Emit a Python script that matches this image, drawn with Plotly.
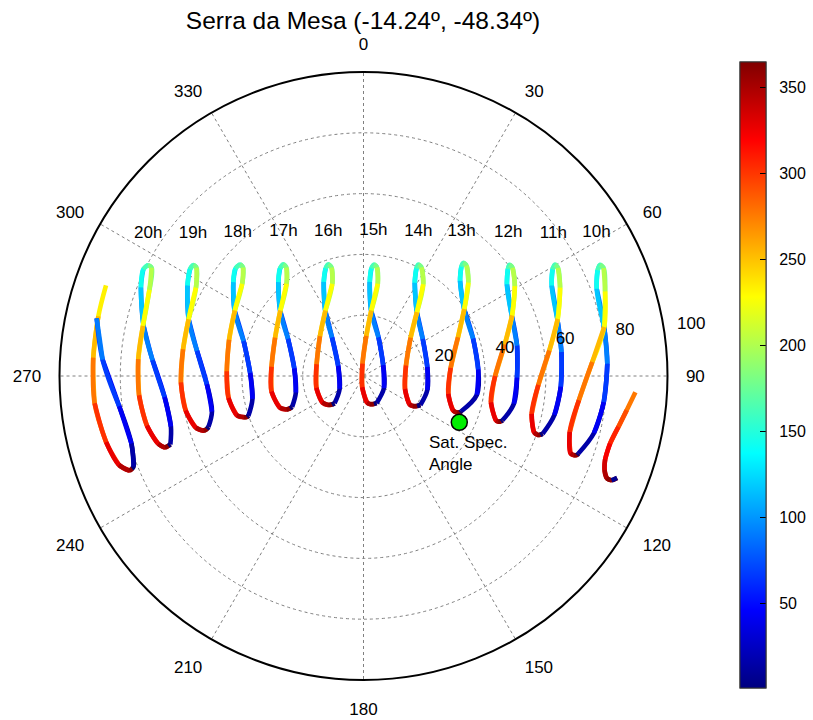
import plotly.graph_objects as go

# ---------------- data (zenith angle r, azimuth theta, day of year) ----------------
DAYS = [1, 30, 55, 80, 104, 130, 155, 172, 190, 215, 241, 265, 290, 315, 340, 355, 365]

zen_20h = [67.4, 65.5, 65.8, 69.6, 74.3, 78.8, 80.5, 79.7, 78.3, 75.9, 74.4, 74.3, 74.1, 73.1, 71.1, 69.4, 68.2]
az_20h = [250.5, 255.3, 264.0, 274.3, 283.0, 291.7, 295.9, 297.2, 297.1, 291.9, 282.8, 274.3, 265.1, 257.1, 251.7, 250.2, 250.3]

zen_19h = [53.7, 51.2, 51.6, 55.4, 60.6, 65.1, 67.0, 66.8, 65.5, 62.3, 60.5, 60.0, 60.1, 59.6, 57.7, 55.5, 54.4]
az_19h = [251.8, 256.8, 267.0, 278.6, 288.2, 297.2, 301.6, 303.1, 303.0, 297.8, 288.0, 278.4, 268.0, 259.0, 252.8, 251.1, 251.3]

zen_18h = [40.1, 37.3, 37.3, 41.1, 47.7, 52.8, 55.0, 54.7, 53.3, 50.1, 47.5, 45.8, 45.0, 45.0, 43.6, 41.6, 40.6]
az_18h = [250.9, 258.3, 271.6, 286.3, 297.1, 305.8, 310.0, 312.1, 312.0, 307.2, 297.0, 285.1, 272.0, 260.7, 252.7, 251.0, 250.6]

zen_17h = [25.6, 22.9, 22.9, 27.7, 35.0, 41.7, 44.8, 45.2, 43.8, 39.5, 34.8, 31.7, 30.4, 30.7, 29.4, 27.6, 26.4]
az_17h = [246.6, 256.3, 276.3, 296.3, 308.3, 317.8, 322.2, 324.3, 324.6, 320.2, 308.2, 293.5, 275.7, 260.4, 249.1, 246.5, 246.2]

zen_16h = [13.1, 8.9, 9.0, 16.4, 25.1, 33.6, 37.5, 38.5, 37.2, 32.0, 24.9, 19.4, 15.9, 16.0, 16.1, 15.0, 14.0]
az_16h = [226.6, 241.8, 292.1, 320.8, 329.8, 337.1, 340.6, 342.5, 343.6, 341.3, 329.8, 312.4, 284.1, 255.8, 237.2, 230.5, 227.9]

zen_15h = [9.9, 7.8, 7.4, 13.7, 21.8, 31.0, 35.5, 36.8, 36.0, 30.7, 21.7, 13.2, 4.1, 3.7, 8.8, 9.5, 9.8]
az_15h = [154.3, 120.1, 61.1, 21.1, 6.5, 3.8, 4.2, 5.4, 7.1, 8.8, 6.8, 4.0, 355.4, 186.7, 172.5, 166.9, 159.5]

zen_14h = [21.0, 21.5, 21.2, 23.0, 27.5, 35.0, 39.4, 40.9, 40.5, 36.0, 27.4, 20.0, 14.4, 14.3, 17.8, 19.0, 20.2]
az_14h = [117.0, 102.2, 81.9, 57.9, 39.5, 28.8, 26.2, 26.2, 28.1, 33.1, 39.9, 50.8, 76.1, 107.4, 121.7, 121.4, 119.2]

zen_13h = [34.1, 37.8, 37.8, 38.1, 39.8, 44.6, 48.2, 49.6, 49.7, 46.2, 39.8, 33.6, 28.8, 28.5, 31.6, 32.9, 33.9]
az_13h = [110.0, 99.4, 86.7, 71.1, 56.2, 45.4, 41.9, 41.4, 43.0, 48.3, 56.4, 67.7, 84.7, 101.9, 111.1, 111.4, 110.7]

zen_12h = [48.0, 50.3, 50.5, 51.5, 52.7, 56.0, 59.1, 60.4, 60.6, 57.9, 52.8, 47.6, 43.3, 42.8, 46.0, 46.8, 47.6]
az_12h = [107.7, 100.4, 90.6, 78.8, 67.6, 57.4, 53.5, 52.7, 54.0, 59.3, 67.8, 77.4, 90.0, 101.7, 108.6, 108.7, 108.3]

zen_11h = [61.9, 64.1, 65.0, 65.6, 66.5, 68.7, 71.4, 72.9, 73.2, 70.9, 66.6, 61.7, 57.6, 56.7, 59.1, 60.4, 61.3]
az_11h = [107.9, 101.5, 93.1, 83.1, 73.4, 64.3, 60.6, 59.8, 60.9, 65.8, 73.6, 82.2, 92.9, 102.7, 108.3, 108.7, 108.4]

zen_10h = [75.1, 78.1, 79.5, 80.3, 80.8, 81.9, 84.5, 86.0, 86.6, 84.2, 80.8, 75.4, 71.3, 70.3, 72.7, 74.0, 74.9]
az_10h = [109.9, 103.9, 96.2, 87.1, 78.4, 69.5, 65.7, 64.8, 65.8, 70.7, 78.5, 86.5, 96.4, 105.2, 110.5, 110.6, 110.3]

# partially visible analemmas (cut at the horizon)
days_21h = [1, 30, 55, 80, 100, 226, 241, 265, 290, 315, 340, 355, 365]
zen_21h = [81.3, 79.5, 81.0, 86.0, 89.8, 89.8, 89.4, 89.1, 88.9, 87.4, 85.6, 83.0, 82.0]
az_21h = [248.5, 253.8, 263.0, 273.6, 282.2, 289.4, 282.7, 273.9, 264.2, 255.6, 250.0, 248.0, 248.2]

days_9h = [15, 268, 285, 300, 315, 330, 342, 355, 365]
zen_9h = [89.9, 89.6, 87.3, 85.5, 84.1, 84.1, 85.1, 86.8, 88.5]
az_9h = [111.9, 93.4, 97.4, 101.3, 105.3, 109.1, 111.3, 112.8, 112.8]

# hour labels
hour_labels = ["20h", "19h", "18h", "17h", "16h", "15h", "14h", "13h", "12h", "11h", "10h"]
label_zen = [84.9, 73.1, 62.8, 54.3, 48.9, 47.8, 50.8, 57.4, 67.1, 78.1, 89.9]
label_az = [303.5, 309.9, 318.8, 331.0, 346.3, 3.9, 20.8, 34.2, 45.2, 53.1, 58.5]

# satellite specular angle point
sat_zen = [35.0]
sat_az = [115.8]

# axis ticks
angle_ticks = list(range(0, 360, 30))
radial_ticks = [20, 40, 60, 80, 100]
cbar_ticks = [50, 100, 150, 200, 250, 300, 350]
DAY_MIN, DAY_MAX = 1, 365

# ---------------- styling ----------------
FONT = "Liberation Sans, Arial, Helvetica, sans-serif"
JET = [[0.0, "rgb(0,0,128)"], [0.125, "rgb(0,0,255)"], [0.375, "rgb(0,255,255)"],
       [0.625, "rgb(255,255,0)"], [0.875, "rgb(255,0,0)"], [1.0, "rgb(128,0,0)"]]


def jet(v):
    t = (v - DAY_MIN) / (DAY_MAX - DAY_MIN)
    r = min(max(1.5 - abs(4 * t - 3), 0), 1)
    g = min(max(1.5 - abs(4 * t - 2), 0), 1)
    b = min(max(1.5 - abs(4 * t - 1), 0), 1)
    return "rgb(%d,%d,%d)" % (round(255 * r), round(255 * g), round(255 * b))


def run_order(d):
    """Order of point indices along the (cyclic) curve, broken where a gap exists."""
    n = len(d)
    gaps = [i for i in range(n - 1) if d[i + 1] - d[i] > 60]
    if gaps:
        g = gaps[0]
        idx = list(range(g + 1, n))
        if d[0] + 365 - d[-1] <= 60:
            idx += list(range(0, g + 1))
        return idx
    return list(range(n)) + [0]


curves = [
    (days_21h, zen_21h, az_21h),
    (DAYS, zen_20h, az_20h), (DAYS, zen_19h, az_19h), (DAYS, zen_18h, az_18h),
    (DAYS, zen_17h, az_17h), (DAYS, zen_16h, az_16h), (DAYS, zen_15h, az_15h),
    (DAYS, zen_14h, az_14h), (DAYS, zen_13h, az_13h), (DAYS, zen_12h, az_12h),
    (DAYS, zen_11h, az_11h), (DAYS, zen_10h, az_10h),
    (days_9h, zen_9h, az_9h),
]

fig = go.Figure()
LW = 4.6
for d, z, a in curves:
    idx = run_order(d)
    m = len(idx)
    for k in range(m - 1):
        i, j = idx[k], idx[k + 1]
        win = idx[k:k + 3] if k < m - 2 else idx[k:k + 2]
        di, dj = d[i], d[j]
        if dj < di:
            dj += 365
        mid = (di + dj) / 2.0
        if mid > 365:
            mid -= 365
        col = jet(mid)
        fig.add_trace(go.Scatterpolar(
            r=[z[q] for q in win], theta=[a[q] for q in win], mode="lines",
            line=dict(color=col, width=LW, shape="spline", smoothing=1.0),
            hoverinfo="skip", showlegend=False))

# colour bar (day of year): labels bar underneath, tick-mark bar on top
cb_common = dict(x=740 / 813, xanchor="left", xpad=0, y=(720 - 375) / 720,
                 yanchor="middle", ypad=0, len=626 / 720, lenmode="fraction",
                 thickness=26, thicknessmode="pixels", tickvals=cbar_ticks,
                 outlinecolor="#333", outlinewidth=1,
                 tickfont=dict(size=16, family=FONT, color="black"))
fig.add_trace(go.Scatterpolar(
    r=[None, None], theta=[None, None], mode="markers", hoverinfo="skip", showlegend=False,
    marker=dict(size=1, opacity=0, color=[DAY_MIN, DAY_MAX], cmin=DAY_MIN, cmax=DAY_MAX,
                colorscale=JET, showscale=True,
                colorbar=dict(ticks="outside", ticklen=10, tickcolor="rgba(0,0,0,0)",
                              **cb_common))))
fig.add_trace(go.Scatterpolar(
    r=[None, None], theta=[None, None], mode="markers", hoverinfo="skip", showlegend=False,
    marker=dict(size=1, opacity=0, color=[DAY_MIN, DAY_MAX], cmin=DAY_MIN, cmax=DAY_MAX,
                colorscale=JET, showscale=True,
                colorbar=dict(ticks="inside", ticklen=6, tickcolor="black",
                              showticklabels=False, **cb_common))))

# satellite specular angle
fig.add_trace(go.Scatterpolar(
    r=sat_zen, theta=sat_az, mode="markers", hoverinfo="skip", showlegend=False,
    marker=dict(size=16, color="#00ee00", line=dict(color="black", width=1.5))))
fig.add_trace(go.Scatterpolar(
    r=[29.0], theta=[132.0], mode="text", text=["Sat. Spec.<br>Angle"],
    textposition="bottom right", hoverinfo="skip", showlegend=False, cliponaxis=False,
    textfont=dict(size=17, family=FONT, color="black")))

# hour labels
fig.add_trace(go.Scatterpolar(
    r=label_zen, theta=label_az, mode="text", text=hour_labels, textposition="middle center",
    hoverinfo="skip", showlegend=False, cliponaxis=False,
    textfont=dict(size=17, family=FONT, color="black")))

# radial tick labels (MATLAB style, offset along ~80 deg)
fig.add_trace(go.Scatterpolar(
    r=[27.2, 47.4, 67.4, 87.3], theta=[76.5, 78.9, 79.7, 80.2], mode="text",
    text=[str(v) for v in radial_ticks[:4]], textposition="middle center",
    hoverinfo="skip", showlegend=False, cliponaxis=False,
    textfont=dict(size=17, family=FONT, color="black")))

cx0, cx1 = 59.5 / 813, 667.5 / 813
cy0, cy1 = (720 - 680) / 720, (720 - 72) / 720

fig.update_layout(
    width=813, height=720, margin=dict(l=0, r=0, t=0, b=0),
    paper_bgcolor="white", showlegend=False,
    title=dict(text="Serra da Mesa (-14.24º, -48.34º)", x=363 / 813, xanchor="center",
               y=1 - 20 / 720, yanchor="middle",
               font=dict(size=24.5, family=FONT, color="black")),
    annotations=[dict(text=str(radial_ticks[-1]), x=691 / 813, y=1 - 323.5 / 720,
                      xref="paper", yref="paper", showarrow=False,
                      xanchor="center", yanchor="middle",
                      font=dict(size=17, family=FONT, color="black"))],
    polar=dict(
        domain=dict(x=[cx0, cx1], y=[cy0, cy1]),
        bgcolor="white",
        angularaxis=dict(rotation=90, direction="clockwise", tickmode="array",
                         tickvals=angle_ticks, ticktext=[str(v) for v in angle_ticks],
                         showgrid=True, gridcolor="#808080", griddash="dot", gridwidth=1,
                         showline=True, linecolor="black", linewidth=2,
                         ticks="outside", ticklen=14, tickcolor="rgba(0,0,0,0)",
                         tickfont=dict(size=17, family=FONT, color="black")),
        radialaxis=dict(range=[0, 100], tickmode="array", tickvals=radial_ticks,
                        showticklabels=False, ticks="", showline=False,
                        showgrid=True, gridcolor="#808080", griddash="dot", gridwidth=1),
    ),
)

fig.write_html("out.html", config={"displayModeBar": False},
               post_script="document.body.style.margin='0px';")
